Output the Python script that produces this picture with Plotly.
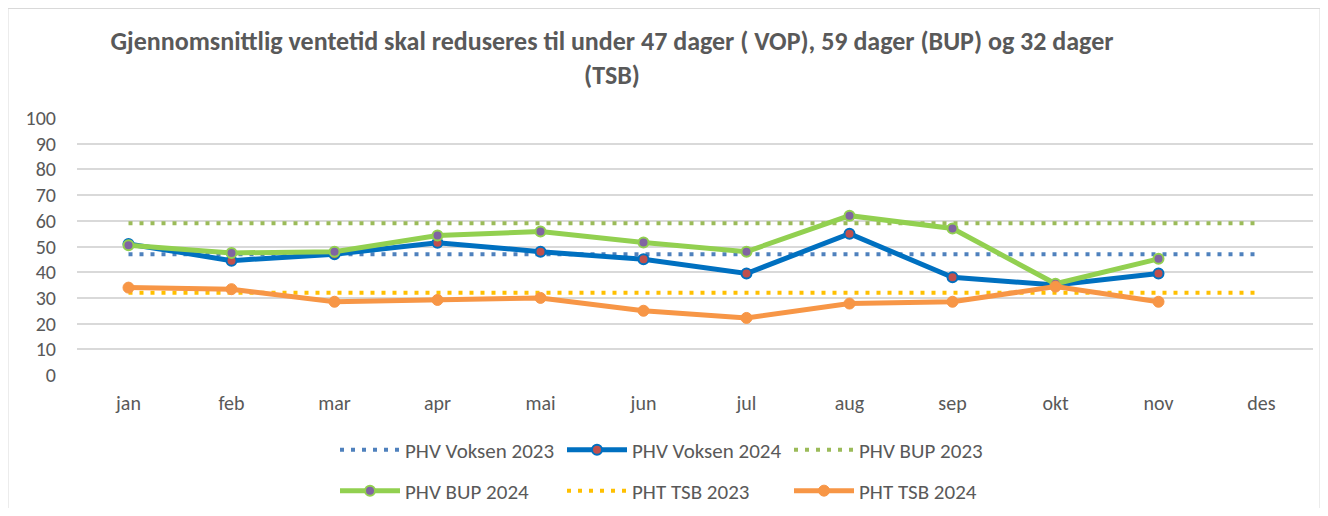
import plotly.graph_objects as go

months = ["jan", "feb", "mar", "apr", "mai", "jun", "jul", "aug", "sep", "okt", "nov", "des"]
voksen_2023 = [47] * 12
voksen_2024 = [51, 44.5, 47, 51.5, 48, 45, 39.5, 55, 38, 35, 39.5]
bup_2023 = [59] * 12
bup_2024 = [50.5, 47.5, 48, 54.3, 55.8, 51.6, 48, 62, 57, 35.5, 45.2]
tsb_2023 = [32] * 12
tsb_2024 = [34, 33.4, 28.5, 29.2, 30, 25, 22.2, 27.8, 28.5, 34.4, 28.5]
y_ticks = list(range(0, 101, 10))
title_text = ("Gjennomsnittlig ventetid skal reduseres til under 47 dager ( VOP), 59 dager (BUP) og 32 dager"
              "<br>(TSB)")

FONT = "Carlito, Calibri, Lato, Liberation Sans, Arial, sans-serif"
GRAY = "#595959"

# The page body has an 8px margin, so figure pixel = screen pixel - 8
OFF = 8
W, H = 1328 - 2 * OFF, 516 - 2 * OFF
L, R, T, B = 77 - OFF, 1313 - OFF, 118 - OFF, 375 - OFF


def px_x(p):  # screen px -> paper x
    return (p - OFF - L) / (R - L)


def px_y(p):  # screen px -> paper y
    return (B - (p - OFF)) / (B - T)


fig = go.Figure()
DOT = "4px,7px"
fig.add_trace(go.Scatter(x=months, y=voksen_2023, name="PHV Voksen 2023", mode="lines",
                         line=dict(color="#4F81BD", width=4, dash=DOT), legend="legend"))
fig.add_trace(go.Scatter(x=months[:len(voksen_2024)], y=voksen_2024, name="PHV Voksen 2024",
                         mode="lines+markers",
                         line=dict(color="#0070C0", width=5),
                         marker=dict(size=10, color="#C0504D", line=dict(color="#0070C0", width=2)),
                         legend="legend"))
fig.add_trace(go.Scatter(x=months, y=bup_2023, name="PHV BUP 2023", mode="lines",
                         line=dict(color="#9BBB59", width=4, dash=DOT), legend="legend"))
fig.add_trace(go.Scatter(x=months[:len(bup_2024)], y=bup_2024, name="PHV BUP 2024",
                         mode="lines+markers",
                         line=dict(color="#92D050", width=5),
                         marker=dict(size=10, color="#8064A2", line=dict(color="#92D050", width=2)),
                         legend="legend2"))
fig.add_trace(go.Scatter(x=months, y=tsb_2023, name="PHT TSB 2023", mode="lines",
                         line=dict(color="#FFC000", width=4, dash=DOT), legend="legend2"))
fig.add_trace(go.Scatter(x=months[:len(tsb_2024)], y=tsb_2024, name="PHT TSB 2024",
                         mode="lines+markers",
                         line=dict(color="#F79646", width=5),
                         marker=dict(size=11, color="#F79646", line=dict(color="#F79646", width=1)),
                         legend="legend2"))

legend_common = dict(orientation="h", xanchor="left", yanchor="middle",
                     font=dict(family=FONT, size=21, color=GRAY),
                     itemwidth=60, entrywidth=152, entrywidthmode="pixels",
                     bgcolor="rgba(0,0,0,0)", itemclick=False)

fig.update_layout(
    width=W, height=H,
    margin=dict(l=L, r=W - R, t=T, b=H - B, autoexpand=False),
    paper_bgcolor="white", plot_bgcolor="white",
    font=dict(family=FONT, color=GRAY),
    title=dict(text=title_text, x=(612 - OFF) / W, xanchor="center", y=1 - 42 / H, yanchor="top",
               font=dict(family=FONT, size=26, color=GRAY, weight="bold")),
    xaxis=dict(type="category", categoryorder="array", categoryarray=months,
               range=[-0.5, 11.5], showgrid=False, showline=False, ticks="",
               tickfont=dict(family=FONT, size=20, color=GRAY), ticklabelstandoff=14),
    yaxis=dict(range=[0, 100], tickvals=y_ticks, showgrid=True, gridcolor="#D9D9D9", gridwidth=1.5,
               zeroline=False, showline=False, ticks="",
               tickfont=dict(family=FONT, size=20, color=GRAY), ticklabelstandoff=20),
    legend=dict(x=px_x(335), y=px_y(450), **legend_common),
    legend2=dict(x=px_x(335), y=px_y(491), **legend_common),
    showlegend=True,
    shapes=[dict(type="rect", xref="paper", yref="paper",
                 x0=px_x(8), x1=px_x(1320), y0=px_y(530), y1=px_y(8.5),
                 line=dict(color="#D9D9D9", width=1), fillcolor="rgba(0,0,0,0)", layer="below")],
)

fig.write_html("out.html")
